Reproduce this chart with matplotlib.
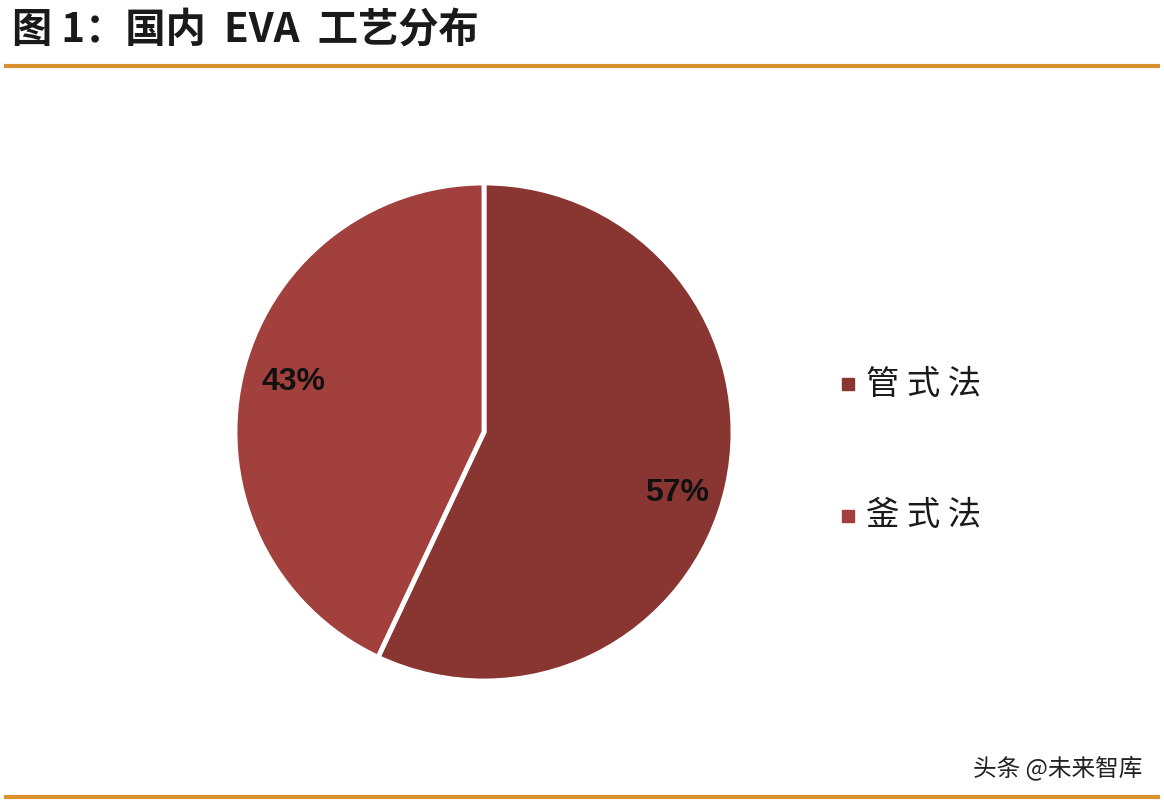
import matplotlib.pyplot as plt
from matplotlib.lines import Line2D
from matplotlib.patches import Rectangle

plt.rcParams['font.family'] = ['Noto Sans CJK SC', 'DejaVu Sans']

labels = ['管式法', '釜式法']
shares = [57, 43]
colors = ['#893531', '#A1403D']

W, H = 1164, 806
fig = plt.figure(figsize=(W / 100, H / 100), dpi=100)
fig.patch.set_facecolor('white')

# title and rules
fig.text(12 / W, 1 - 30 / H, '图 1：国内  EVA  工艺分布', fontsize=29, fontweight='heavy',
         color='#1a1a1a', va='center', ha='left')
fig.add_artist(Line2D([6 / W, 1 - 6 / W], [1 - 66 / H] * 2, color='#D9902E', lw=3))
fig.add_artist(Line2D([6 / W, 1 - 6 / W], [1 - 797 / H] * 2, color='#D9902E', lw=3))

# pie
cx, cy, r = 484, 432, 249
ax = fig.add_axes([(cx - r) / W, 1 - (cy + r) / H, 2 * r / W, 2 * r / H])
ax.pie(shares, colors=colors, startangle=90, counterclock=False,
       wedgeprops=dict(edgecolor='white', linewidth=3.5))
ax.set_xlim(-1, 1)
ax.set_ylim(-1, 1)
ax.set_aspect('equal')
pct_font = dict(fontsize=23, ha='center', va='center', color='#111111',
                family='Liberation Sans', fontweight='bold')
ax.text(0.775, -0.245, '57%', **pct_font)
ax.text(-0.765, 0.2, '43%', **pct_font)

# legend
for i, (lab, col) in enumerate(zip(labels, colors)):
    y = 384 + i * 132
    fig.add_artist(Rectangle((842 / W, 1 - (y + 6) / H), 12 / W, 12 / H,
                             transform=fig.transFigure, color=col))
    fig.text(866 / W, 1 - y / H, ' '.join(lab), fontsize=24, va='center', ha='left',
             color='#1a1a1a')

fig.text(1 - 22 / W, 1 - 768 / H, '头条 @未来智库', fontsize=17, ha='right', va='center',
         color='#222222')

fig.savefig('out.png', dpi=100)
